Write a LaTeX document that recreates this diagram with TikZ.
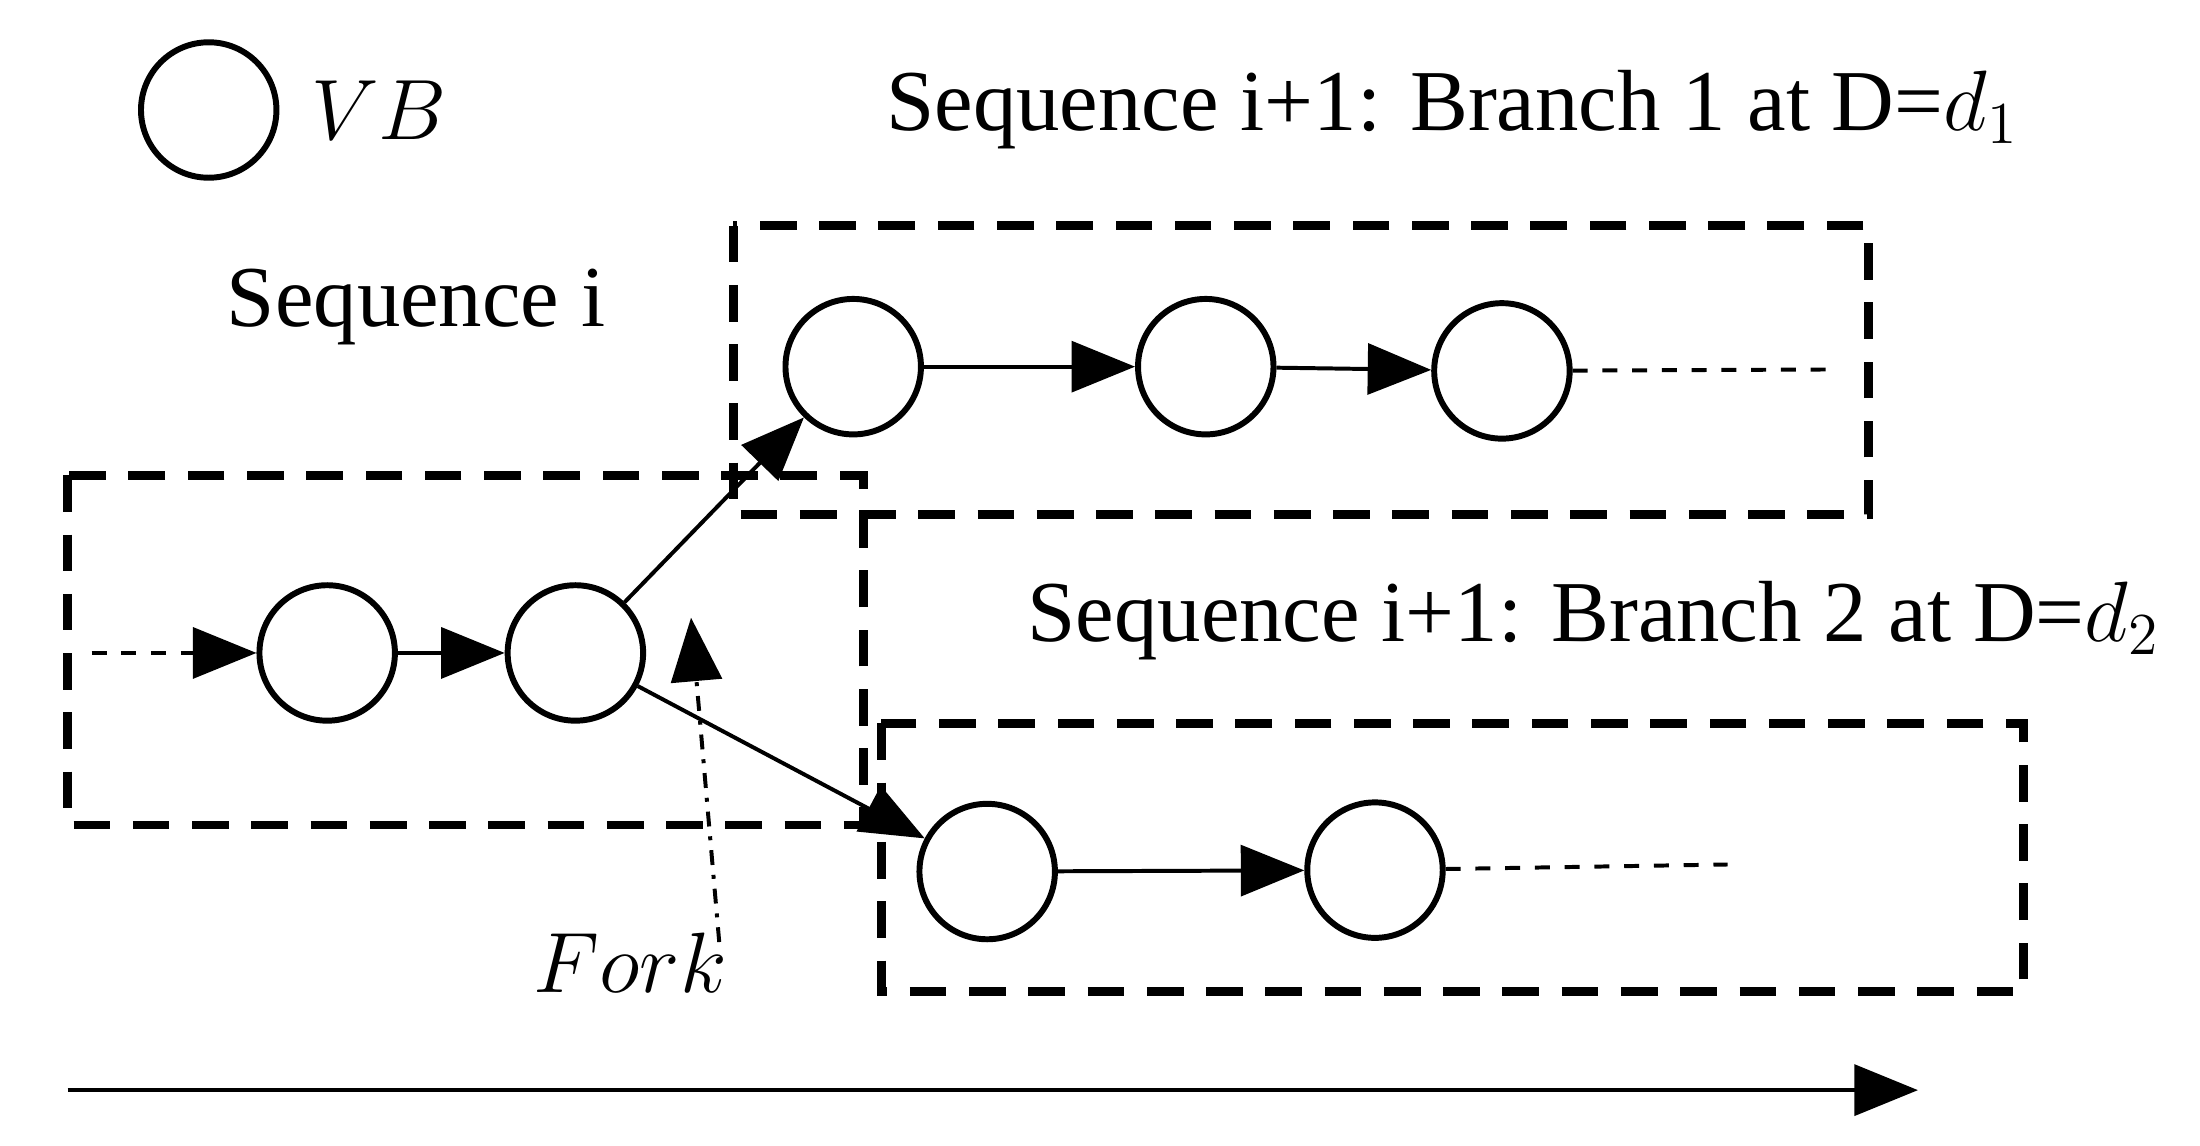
\documentclass[tikz,border=0pt]{standalone}
\usepackage{fontspec}
\setmainfont{Liberation Serif}
\usetikzlibrary{arrows.meta,positioning}
\tikzset{line/.style={draw,-{Triangle[length=4.5mm,width=3.6mm]}}}

\begin{document}
\begin{tikzpicture}[
	x=0.01cm,y=-0.01cm,
	vb/.style={
		circle,
		minimum size=9.6mm,
		inner sep=0pt,
		very thick,
		draw=black,
	},
	box/.style={
		draw=black,
		line width=1.8pt,
		dash pattern=on 2.6mm off 1.6mm,
	},
	label/.style={
		font=\fontsize{17.5}{20}\selectfont,
	}
]
	\useasboundingbox (0,0) rectangle (1560,812);
	% legend
	\node (legend) [vb] at (148,78) {};
	\node (vbtext) [label,right=1mm of legend] {$VB$};
	% boxes
	\draw [box] (520,160) rectangle (1325,365);
	\draw [box] (48,337) rectangle (612,585);
	\draw [box] (625,513) rectangle (1435,703);
	% titles
	\node (t1) [label] at (1030,78) {Sequence i+1: Branch 1 at D=$d_1$};
	\node (t0) [label] at (295,218) {Sequence i};
	\node (t2) [label] at (1130,440) {Sequence i+1: Branch 2 at D=$d_2$};
	% sequence i
	\coordinate (in) at (65,463);
	\node (a) [vb] at (232,463) {};
	\node (b) [vb] at (408,463) {};
	% branch 1
	\node (c) [vb] at (605,260) {};
	\node (d) [vb] at (855,260) {};
	\node (e) [vb] at (1065,263) {};
	\coordinate (eout) at (1295,262);
	% branch 2
	\node (f) [vb] at (700,618) {};
	\node (g) [vb] at (975,617) {};
	\coordinate (gout) at (1225,613);

	\draw [line,dashed,thick] (in) -- (a);
	\draw [line,thick] (a) -- (b);
	\draw [line,thick] (b) -- (c);
	\draw [line,thick] (b) -- (f);
	\draw [line,thick] (c) -- (d);
	\draw [line,thick] (d) -- (e);
	\draw [line,thick] (f) -- (g);
	\draw [dashed,thick] (e) -- (eout);
	\draw [dashed,thick] (g) -- (gout);
	% fork
	\node (fork) [label] at (447,683) {$Fork$};
	\coordinate (forkend) at (510,668);
	\coordinate (forktip) at (490,438);
	\draw [line,thick,dash dot] (forkend) -- (forktip);
	% time axis
	\coordinate (ax0) at (48,773);
	\coordinate (ax1) at (1360,773);
	\draw [line,thick] (ax0) -- (ax1);
\end{tikzpicture}
\end{document}
